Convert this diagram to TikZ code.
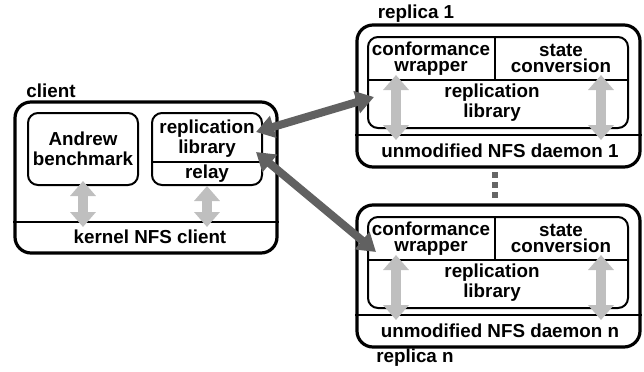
\documentclass[tikz,border=0pt]{standalone}
\usepackage{fontspec}
\setmainfont{Liberation Sans}
\usetikzlibrary{arrows.meta,calc,positioning}
\tikzset{>=stealth}

\begin{document}
\begin{tikzpicture}[x=0.5pt,y=-0.5pt,
  font=\bfseries\fontsize{9.4}{10}\selectfont,
  outer/.style={draw,line width=1.6pt,rounded corners=8pt,inner sep=0pt},
  inner/.style={draw,line width=1pt,rounded corners=5pt,inner sep=0pt},
  lbl/.style={align=center,inner sep=0pt},
  tight/.style={lbl,font=\bfseries\fontsize{9.4}{8}\selectfont},
  lightarr/.style={{Triangle[width=12.5pt,length=7.5pt]}-{Triangle[width=12.5pt,length=7.5pt]},line width=5pt,draw=black!25},
  darkarr/.style={{Triangle[width=11pt,length=9pt]}-{Triangle[width=11pt,length=9pt]},line width=4pt,draw=black!62}]
\useasboundingbox (0,0) rectangle (644,371);
% client
\node[lbl] (clientlbl) at (51,91) {client};
\node[outer,minimum width=131pt,minimum height=75.5pt] (client) at (146,177.5) {};
\node[inner,align=center,minimum width=55pt,minimum height=36pt] (bench) at (83,149) {Andrew\\benchmark};
\node[inner,minimum width=55pt,minimum height=36pt] (lib) at (207,149) {};
\coordinate (libcut) at (207,162);
\draw[line width=1pt] (lib.west |- libcut) -- (lib.east |- libcut);
\node[lbl] (libtxt) at (207,139) {replication\\library};
\node[lbl] (relay) at (207,174) {relay};
\coordinate (kcut) at (146,222);
\draw[line width=1.2pt] (client.west |- kcut) -- (client.east |- kcut);
\node[lbl] (kernel) at (150,237) {kernel NFS client};
\draw[lightarr] ([yshift=2.5pt]bench.south) -- ([yshift=-2.5pt]bench.south |- kcut);
\draw[lightarr] (lib.south) -- ([yshift=-2.5pt]lib.south |- kcut);
% replicas
\foreach \i/\y in {1/0,n/180}{
  \node[outer,minimum width=141.5pt,minimum height=71pt] (rep\i) at (498.5,96+\y) {};
  \node[inner,minimum width=130pt,minimum height=45.5pt] (core\i) at (498,82.5+\y) {};
  \coordinate (mid\i) at (495,80+\y);
  \draw[line width=1pt] (core\i.west |- mid\i) -- (core\i.east |- mid\i);
  \draw[line width=1pt] (core\i.north -| mid\i) -- (mid\i);
  \coordinate (dcut\i) at (498,135+\y);
  \draw[line width=1.2pt] (rep\i.west |- dcut\i) -- (rep\i.east |- dcut\i);
  \node[tight] (conf\i) at (431,59+\y) {conformance\\wrapper};
  \node[tight] (state\i) at (561,58+\y) {state\\conversion};
  \node[lbl] (rlib\i) at (492,103+\y) {replication\\library};
  \node[lbl] (daemon\i) at (500,151+\y) {unmodified NFS daemon \i};
  \draw[lightarr] ($(core\i.west |- mid\i)+(29,-5)$) -- ($(core\i.west |- dcut\i)+(29,5)$);
  \draw[lightarr] ($(core\i.east |- mid\i)+(-28,-5)$) -- ($(core\i.east |- dcut\i)+(-28,5)$);
}
\node[lbl] (rep1lbl) at (416,14) {replica 1};
\node[lbl] (repnlbl) at (415,358) {replica n};
\foreach \y in {175,185,195}
  \fill[black!60] (492,\y-3) rectangle (498,\y+3);
% links
\draw[darkarr] ($(lib.east)+(-7,-17)$) -- ($(core1.west)+(7,14.5)$);
\draw[darkarr] ($(lib.east)+(-7,3)$) -- ($(coren.west)+(9,-10.5)$);
\end{tikzpicture}
\end{document}
